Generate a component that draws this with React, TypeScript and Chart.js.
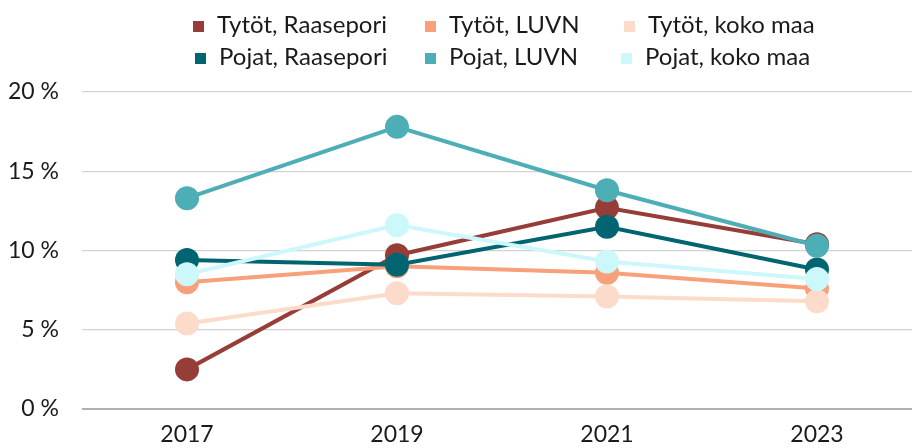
import React, { useEffect, useRef } from "react";
import { Chart, registerables } from "chart.js";

Chart.register(...registerables);

const years = ["2017", "2019", "2021", "2023"];
const seriesNames = [
  "Tytöt, Raasepori",
  "Tytöt, LUVN",
  "Tytöt, koko maa",
  "Pojat, Raasepori",
  "Pojat, LUVN",
  "Pojat, koko maa",
];
const seriesColors = ["#963D38", "#F7A07A", "#FDDBCB", "#006570", "#4DAEB5", "#CCF8FB"];
const tytotRaasepori = [2.5, 9.7, 12.7, 10.4];
const tytotLuvn = [8.0, 9.0, 8.6, 7.6];
const tytotKokoMaa = [5.4, 7.3, 7.1, 6.8];
const pojatRaasepori = [9.4, 9.1, 11.5, 8.8];
const pojatLuvn = [13.3, 17.8, 13.8, 10.3];
const pojatKokoMaa = [8.5, 11.6, 9.3, 8.2];
const seriesValues = [tytotRaasepori, tytotLuvn, tytotKokoMaa, pojatRaasepori, pojatLuvn, pojatKokoMaa];
const yTicks = [0, 5, 10, 15, 20];

const FONT = "Lato, 'Open Sans', sans-serif";
const TEXT = "#1a1a1a";

// legend layout (text left edge, text vertical centre) per item
const legendTextLeft = [217, 449, 648, 219, 449, 645];
const legendRowCenter = [23, 55];

export default function App() {
  const ref = useRef<HTMLCanvasElement | null>(null);

  useEffect(() => {
    document.body.style.margin = "0";
    document.body.style.overflow = "hidden";
    const canvas = ref.current;
    if (!canvas) return;
    const yearNums = years.map((y) => Number(y));
    const chart = new Chart(canvas, {
      type: "line",
      data: {
        datasets: seriesNames.map((name, i) => ({
          label: name,
          data: yearNums.map((x, j) => ({ x, y: seriesValues[i][j] })),
          borderColor: seriesColors[i],
          backgroundColor: seriesColors[i],
          pointBackgroundColor: seriesColors[i],
          pointBorderColor: seriesColors[i],
          borderWidth: 4,
          pointRadius: 12,
          pointBorderWidth: 0,
          pointHoverRadius: 12,
          tension: 0,
          order: seriesNames.length - 1 - i,
        })),
      },
      options: {
        animation: false,
        responsive: true,
        maintainAspectRatio: false,
        layout: { autoPadding: false, padding: { top: 92, left: 0, right: 0, bottom: 0 } },
        plugins: {
          legend: { display: false },
          tooltip: { enabled: false },
        },
        scales: {
          x: {
            type: "linear",
            min: yearNums[0] - 1,
            max: yearNums[yearNums.length - 1] + 0.905,
            afterBuildTicks: (scale: any) => {
              scale.ticks = yearNums.map((v) => ({ value: v }));
            },
            grid: { display: false, drawTicks: false },
            border: { display: false },
            afterFit: (scale: any) => {
              scale.height = 39;
            },
            ticks: {
              color: TEXT,
              font: { family: FONT, size: 23 },
              padding: 12,
              maxRotation: 0,
              autoSkip: false,
              callback: (v: any) => String(v),
            },
          },
          y: {
            min: 0,
            max: 20,
            afterBuildTicks: (scale: any) => {
              scale.ticks = yTicks.map((v) => ({ value: v }));
            },
            afterFit: (scale: any) => {
              scale.width = 82;
            },
            grid: {
              drawTicks: false,
              color: (ctx: any) => (ctx.tick && ctx.tick.value === 0 ? "#b0b0b0" : "#d2d2d2"),
              lineWidth: (ctx: any) => (ctx.tick && ctx.tick.value === 0 ? 2 : 1.2),
            },
            border: { display: false },
            ticks: {
              color: TEXT,
              font: { family: FONT, size: 23 },
              padding: 23,
              callback: (v: any) => `${v} %`,
            },
          },
        },
      },
    });
    return () => chart.destroy();
  }, []);

  return (
    <div style={{ position: "relative", width: 912, height: 448, overflow: "hidden", background: "#fff" }}>
      <canvas ref={ref} />
      {seriesNames.map((name, i) => {
        const row = i < 3 ? 0 : 1;
        const cy = legendRowCenter[row];
        return (
          <div
            key={i}
            style={{
              position: "absolute",
              left: legendTextLeft[i] - 24,
              top: cy - 16,
              height: 32,
              display: "flex",
              alignItems: "center",
              fontFamily: FONT,
              fontSize: 24,
              color: TEXT,
              whiteSpace: "nowrap",
            }}
          >
            <span
              style={{
                display: "inline-block",
                width: 11,
                height: 11,
                background: seriesColors[i],
                marginRight: 13,
                marginTop: 6,
              }}
            />
            <span>{name}</span>
          </div>
        );
      })}
    </div>
  );
}
